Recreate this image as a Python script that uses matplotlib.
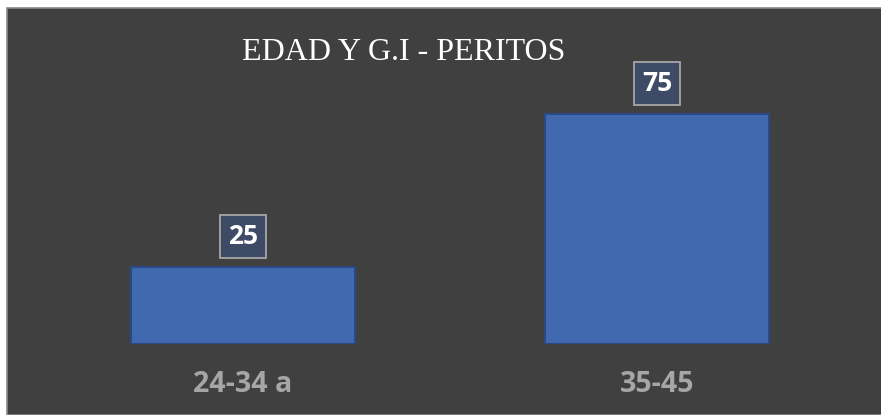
import matplotlib
matplotlib.use("Agg")
import matplotlib.pyplot as plt
from matplotlib.patches import Rectangle

categories = ["24-34 a", "35-45"]
values = [25, 75]
title = "EDAD Y G.I - PERITOS"

W, H = 881, 415
fig = plt.figure(figsize=(W / 100, H / 100), dpi=100, facecolor="white")

# dark chart area with grey border
bg = Rectangle((7 / W, 0), 1 - 7 / W + 0.01, (H - 8) / H, transform=fig.transFigure,
               facecolor="#404040", edgecolor="#8a8a8a", linewidth=1.2, zorder=-10)
fig.patches.append(bg)

ax = fig.add_axes([36 / W, (H - 344) / H, (864 - 36) / W, (344 - 68) / H])
ax.set_facecolor("none")
ax.set_zorder(1)
ax.set_xlim(-0.5, 1.5)
ax.set_ylim(0, 90)

x = list(range(len(categories)))
bars = ax.bar(x, values, width=0.541, color="#4169AF", edgecolor="#2B4A85", linewidth=1.5, zorder=2)

for xi, v in zip(x, values):
    ax.annotate(str(v), (xi, v), xytext=(0, 22), textcoords="offset points",
                ha="center", va="center", fontsize=19, fontweight="bold",
                family="Open Sans", color="white", zorder=4,
                bbox=dict(boxstyle="square,pad=0.3", facecolor="#3E4B66",
                          edgecolor="#a6a6a6", linewidth=1.3))

ax.set_xticks(x)
ax.set_xticklabels(categories, fontsize=20.5, fontweight="bold", family="Open Sans", color="#A6A6A6")
ax.tick_params(axis="x", length=0, pad=19)
ax.set_yticks([])
for s in ax.spines.values():
    s.set_visible(False)

fig.text(404 / W, 1 - 53 / H, title, ha="center", va="center", fontsize=23,
         family="Liberation Serif", color="white")

fig.savefig("out.png", dpi=100, facecolor="white")
